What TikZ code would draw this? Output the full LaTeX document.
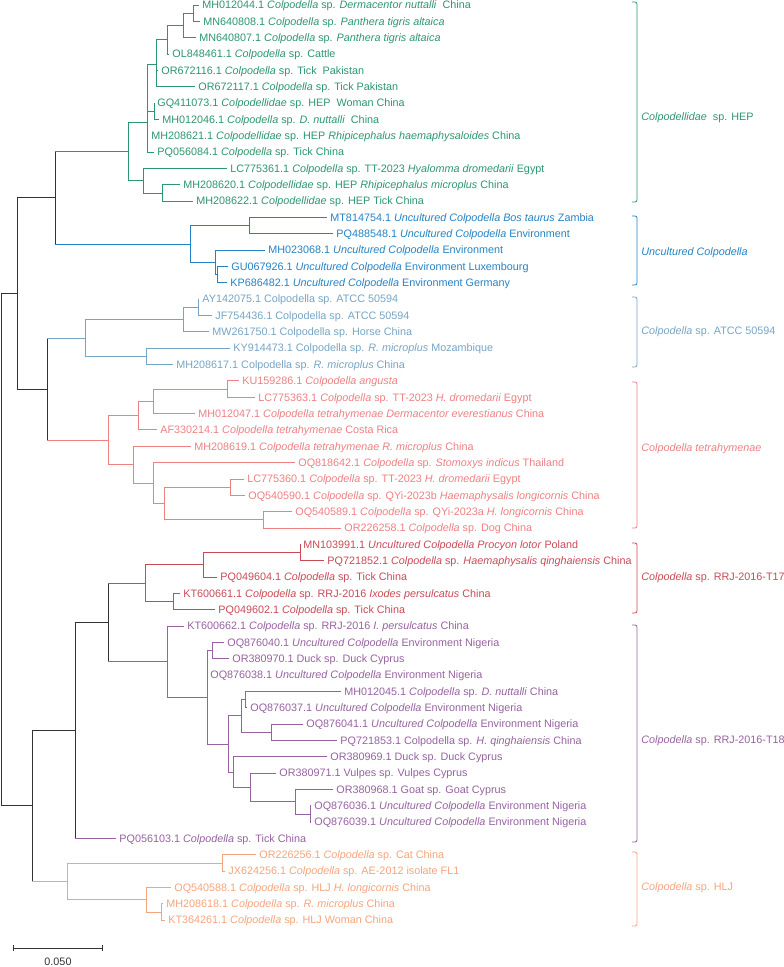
\documentclass[tikz,border=0pt]{standalone}
\usepackage{fontspec}
\setmainfont{Liberation Sans}
\definecolor{hepc}{RGB}{44,150,110}
\definecolor{uncc}{RGB}{36,130,196}
\definecolor{atcc}{RGB}{118,164,196}
\definecolor{tetc}{RGB}{236,128,130}
\definecolor{tsvc}{RGB}{200,74,86}
\definecolor{teic}{RGB}{150,98,160}
\definecolor{hljc}{RGB}{244,164,124}
\definecolor{bbc}{RGB}{50,50,50}
\newcommand{\lblfont}{\fontsize{10.8}{13}\selectfont}

\begin{document}
\begin{tikzpicture}[x=1pt,y=-1pt,line width=0.8pt,
  leaf/.style={anchor=west,inner xsep=3pt,inner ysep=0pt,text height=7.7pt,text depth=0pt,font=\lblfont},
  grp/.style={anchor=west,inner sep=0pt,text height=7.7pt,text depth=0pt,font=\lblfont},
  bb/.style={color=bbc},
  hep/.style={color=hepc}, unc/.style={color=uncc}, atc/.style={color=atcc},
  tet/.style={color=tetc}, tsv/.style={color=tsvc}, tei/.style={color=teic},
  hlj/.style={color=hljc},
  brk/.style={rounded corners=2pt}]
  \useasboundingbox (0,0) rectangle (784,967);

  % backbone
  \coordinate (root) at (1,549.6);
  \coordinate (A) at (17,293.4);
  \coordinate (B) at (55,197.7);
  \coordinate (C) at (47,389);
  \coordinate (D) at (32,805.8);
  \coordinate (E) at (75,730.3);
  \coordinate (F) at (108,622.3);

  % Colpodellidae sp. HEP
  \coordinate (G0) at (128,151.3);
  \coordinate (G1) at (147,122);
  \coordinate (G2) at (156,64);
  \coordinate (G3) at (167,39.7);
  \coordinate (G4) at (183,25.4);
  \coordinate (G5) at (193,13.2);
  \coordinate (GQn) at (154,111.2);
  \coordinate (G6) at (143,180.7);
  \coordinate (G7) at (162,192.9);
  \node[leaf,hep] (MH012044) at (199,5.0) {MH012044.1 \textit{Colpodella} sp. \textit{Dermacentor nuttalli}\ \ China};
  \node[leaf,hep] (MN640808) at (200,21.3) {MN640808.1 \textit{Colpodella} sp. \textit{Panthera tigris altaica}};
  \node[leaf,hep] (MN640807) at (196,37.7) {MN640807.1 \textit{Colpodella} sp. \textit{Panthera tigris altaica}};
  \node[leaf,hep] (OL848461) at (169,54.0) {OL848461.1 \textit{Colpodella} sp. Cattle};
  \node[leaf,hep] (OR672116) at (158,70.4) {OR672116.1 \textit{Colpodella} sp. Tick\ \ Pakistan};
  \node[leaf,hep] (OR672117) at (195,86.7) {OR672117.1 \textit{Colpodella} sp. Tick Pakistan};
  \node[leaf,hep] (GQ411073) at (154,103.0) {GQ411073.1 \textit{Colpodellidae} sp. HEP\ \ Woman China};
  \node[leaf,hep] (MH012046) at (159,119.4) {MH012046.1 \textit{Colpodella} sp. \textit{D. nuttalli}\ \ China};
  \node[leaf,hep] (MH208621) at (148,135.7) {MH208621.1 \textit{Colpodellidae} sp. HEP \textit{Rhipicephalus haemaphysaloides} China};
  \node[leaf,hep] (PQ056084) at (154,152.1) {PQ056084.1 \textit{Colpodella} sp. Tick China};
  \node[leaf,hep] (LC775361) at (227,168.4) {LC775361.1 \textit{Colpodella} sp. TT-2023 \textit{Hyalomma dromedarii} Egypt};
  \node[leaf,hep] (MH208620) at (180,184.7) {MH208620.1 \textit{Colpodellidae} sp. HEP \textit{Rhipicephalus microplus} China};
  \node[leaf,hep] (MH208622) at (193,201.1) {MH208622.1 \textit{Colpodellidae} sp. HEP Tick China};

  % Uncultured Colpodella
  \coordinate (U0) at (190,244);
  \coordinate (U1) at (249,225.6);
  \coordinate (U2) at (215,262.4);
  \coordinate (U3) at (217,274.6);
  \node[leaf,unc] (MT814754) at (327,217.4) {MT814754.1 \textit{Uncultured Colpodella Bos taurus} Zambia};
  \node[leaf,unc] (PQ488548) at (333,233.8) {PQ488548.1 \textit{Uncultured Colpodella} Environment};
  \node[leaf,unc] (MH023068) at (265,250.1) {MH023068.1 \textit{Uncultured Colpodella} Environment};
  \node[leaf,unc] (GU067926) at (228,266.4) {GU067926.1 \textit{Uncultured Colpodella} Environment Luxembourg};
  \node[leaf,unc] (KP686482) at (227,282.8) {KP686482.1 \textit{Uncultured Colpodella} Environment Germany};

  % Colpodella sp. ATCC 50594
  \coordinate (L0) at (85,338);
  \coordinate (L1) at (183,319.6);
  \coordinate (L2) at (198,307.3);
  \coordinate (L3) at (146,356.3);
  \node[leaf,atc] (AY142075) at (199,299.1) {AY142075.1 Colpodella sp. ATCC 50594};
  \node[leaf,atc] (JF754436) at (212,315.5) {JF754436.1 Colpodella sp. ATCC 50594};
  \node[leaf,atc] (MW261750) at (209,331.8) {MW261750.1 Colpodella sp. Horse China};
  \node[leaf,atc] (KY914473) at (230,348.1) {KY914473.1 Colpodella sp. \textit{R. microplus} Mozambique};
  \node[leaf,atc] (MH208617) at (173,364.5) {MH208617.1 Colpodella sp. \textit{R. microplus} China};

  % Colpodella tetrahymenae
  \coordinate (P0) at (108,440.1);
  \coordinate (P1) at (138,415.6);
  \coordinate (P2) at (153,401.3);
  \coordinate (P3) at (227,389);
  \coordinate (P4) at (133,464.6);
  \coordinate (P5) at (153,483);
  \coordinate (P6) at (164,503.4);
  \coordinate (P7) at (230,487);
  \coordinate (P8) at (263,519.7);
  \node[leaf,tet] (KU159286) at (239,380.8) {KU159286.1 \textit{Colpodella angusta}};
  \node[leaf,tet] (LC775363) at (255,397.2) {LC775363.1 \textit{Colpodella} sp. TT-2023 \textit{H. dromedarii} Egypt};
  \node[leaf,tet] (MH012047) at (195,413.5) {MH012047.1 \textit{Colpodella tetrahymenae Dermacentor everestianus} China};
  \node[leaf,tet] (AF330214) at (157,429.8) {AF330214.1 \textit{Colpodella tetrahymenae} Costa Rica};
  \node[leaf,tet] (MH208619) at (191,446.2) {MH208619.1 \textit{Colpodella tetrahymenae R. microplus} China};
  \node[leaf,tet] (OQ818642) at (295,462.5) {OQ818642.1 \textit{Colpodella} sp. \textit{Stomoxys indicus} Thailand};
  \node[leaf,tet] (LC775360) at (244,478.9) {LC775360.1 \textit{Colpodella} sp. TT-2023 \textit{H. dromedarii} Egypt};
  \node[leaf,tet] (OQ540590) at (245,495.2) {OQ540590.1 \textit{Colpodella} sp. QYi-2023b \textit{Haemaphysalis longicornis} China};
  \node[leaf,tet] (OQ540589) at (292,511.5) {OQ540589.1 \textit{Colpodella} sp. QYi-2023a \textit{H. longicornis} China};
  \node[leaf,tet] (OR226258) at (341,527.9) {OR226258.1 \textit{Colpodella} sp. Dog China};

  % Colpodella sp. RRJ-2016-T17
  \coordinate (R0) at (145,583);
  \coordinate (R1) at (203,564.7);
  \coordinate (R2) at (300,552.4);
  \coordinate (R3) at (173,601.4);
  \node[leaf,tsv] (MN103991) at (300,544.2) {MN103991.1 \textit{Uncultured Colpodella Procyon lotor} Poland};
  \node[leaf,tsv] (PQ721852) at (324,560.6) {PQ721852.1 \textit{Colpodella} sp. \textit{Haemaphysalis qinghaiensis} China};
  \node[leaf,tsv] (PQ049604) at (217,576.9) {PQ049604.1 \textit{Colpodella} sp. Tick China};
  \node[leaf,tsv] (KT600661) at (180,593.2) {KT600661.1 \textit{Colpodella} sp. RRJ-2016 \textit{Ixodes persulcatus} China};
  \node[leaf,tsv] (PQ049602) at (215,609.6) {PQ049602.1 \textit{Colpodella} sp. Tick China};

  % Colpodella sp. RRJ-2016-T18
  \coordinate (Q0) at (167,661.6);
  \coordinate (Q1) at (207,697.2);
  \coordinate (Q2) at (212,650.5);
  \coordinate (Q4) at (228,743.9);
  \coordinate (Q5) at (241,715.8);
  \coordinate (Q5a) at (245,699.5);
  \coordinate (Q6) at (271,732.2);
  \coordinate (Q7) at (233,772);
  \coordinate (Q8) at (250,787.3);
  \coordinate (Q9) at (295,801.6);
  \coordinate (Q10) at (310,813.9);
  \node[leaf,tei] (KT600662) at (184,625.9) {KT600662.1 \textit{Colpodella} sp. RRJ-2016 \textit{I. persulcatus} China};
  \node[leaf,tei] (OQ876040) at (224,642.3) {OQ876040.1 \textit{Uncultured Colpodella} Environment Nigeria};
  \node[leaf,tei] (OR380970) at (229,658.6) {OR380970.1 Duck sp. Duck Cyprus};
  \node[leaf,tei] (OQ876038) at (207,674.9) {OQ876038.1 \textit{Uncultured Colpodella} Environment Nigeria};
  \node[leaf,tei] (MH012045) at (341,691.3) {MH012045.1 \textit{Colpodella} sp. \textit{D. nuttalli} China};
  \node[leaf,tei] (OQ876037) at (247,707.6) {OQ876037.1 \textit{Uncultured Colpodella} Environment Nigeria};
  \node[leaf,tei] (OQ876041) at (303,724.0) {OQ876041.1 \textit{Uncultured Colpodella} Environment Nigeria};
  \node[leaf,tei] (PQ721853) at (337,740.3) {PQ721853.1 Colpodella sp. \textit{H. qinghaiensis} China};
  \node[leaf,tei] (OR380969) at (327,756.6) {OR380969.1 Duck sp. Duck Cyprus};
  \node[leaf,tei] (OR380971) at (276,773.0) {OR380971.1 Vulpes sp. Vulpes Cyprus};
  \node[leaf,tei] (OR380968) at (333,789.3) {OR380968.1 Goat sp. Goat Cyprus};
  \node[leaf,tei] (OQ876036) at (311,805.7) {OQ876036.1 \textit{Uncultured Colpodella} Environment Nigeria};
  \node[leaf,tei] (OQ876039) at (311,822.0) {OQ876039.1 \textit{Uncultured Colpodella} Environment Nigeria};
  \node[leaf,tei] (PQ056103) at (116,838.3) {PQ056103.1 \textit{Colpodella} sp. Tick China};

  % Colpodella sp. HLJ
  \coordinate (O0) at (67,881.3);
  \coordinate (O1) at (222,862.9);
  \coordinate (O2) at (146,899.7);
  \coordinate (O3) at (161,911.9);
  \node[leaf,hlj] (OR226256) at (256,854.7) {OR226256.1 \textit{Colpodella} sp. Cat China};
  \node[leaf,hlj] (JX624256) at (225,871.0) {JX624256.1 \textit{Colpodella} sp. AE-2012 isolate FL1};
  \node[leaf,hlj] (OQ540588) at (171,887.4) {OQ540588.1 \textit{Colpodella} sp. HLJ \textit{H. longicornis} China};
  \node[leaf,hlj] (MH208618) at (163,903.7) {MH208618.1 \textit{Colpodella} sp. \textit{R. microplus} China};
  \node[leaf,hlj] (KT364261) at (165,920.0) {KT364261.1 \textit{Colpodella} sp. HLJ Woman China};

  % branches
  \foreach \p/\c in {root/A, root/D, A/B, A/C, D/E, E/F}
    \draw[bb] (\p) |- (\c);
  \foreach \p/\c/\s in {B/G0/hep, B/U0/unc, C/L0/atc, C/P0/tet, F/R0/tsv, F/Q0/tei, E/PQ056103/tei, D/O0/hlj} {
    \draw[bb] (\p) -- (\p |- \c);
    \draw[\s] (\p |- \c) -- (\c);
  }
  \foreach \p/\c in {G0/G1, G0/G6, G1/G2, G1/GQn, G1/MH208621, G1/PQ056084, G2/G3, G2/OR672116, G2/OR672117,
      G3/G4, G3/OL848461, G4/G5, G4/MN640807, G5/MH012044, G5/MN640808, GQn/GQ411073, GQn/MH012046,
      G6/LC775361, G6/G7, G7/MH208620, G7/MH208622}
    \draw[hep] (\p) |- (\c);
  \foreach \p/\c in {U0/U1, U0/U2, U1/MT814754, U1/PQ488548, U2/MH023068, U2/U3, U3/GU067926, U3/KP686482}
    \draw[unc] (\p) |- (\c);
  \foreach \p/\c in {L0/L1, L0/L3, L1/L2, L1/MW261750, L2/AY142075, L2/JF754436, L3/KY914473, L3/MH208617}
    \draw[atc] (\p) |- (\c);
  \foreach \p/\c in {P0/P1, P0/P4, P1/P2, P1/AF330214, P2/P3, P2/MH012047, P3/KU159286, P3/LC775363,
      P4/MH208619, P4/P5, P5/OQ818642, P5/P6, P6/P7, P6/P8, P7/LC775360, P7/OQ540590, P8/OQ540589, P8/OR226258}
    \draw[tet] (\p) |- (\c);
  \foreach \p/\c in {R0/R1, R0/R3, R1/R2, R1/PQ049604, R2/MN103991, R2/PQ721852, R3/KT600661, R3/PQ049602}
    \draw[tsv] (\p) |- (\c);
  \foreach \p/\c in {Q0/KT600662, Q0/Q1, Q1/Q2, Q1/OQ876038, Q1/Q4, Q2/OQ876040, Q2/OR380970, Q4/Q5, Q4/Q7,
      Q5/Q5a, Q5/Q6, Q5a/MH012045, Q5a/OQ876037, Q6/OQ876041, Q6/PQ721853, Q7/OR380969, Q7/Q8,
      Q8/OR380971, Q8/Q9, Q9/OR380968, Q9/Q10, Q10/OQ876036, Q10/OQ876039}
    \draw[tei] (\p) |- (\c);
  \foreach \p/\c in {O0/O1, O0/O2, O1/OR226256, O1/JX624256, O2/OQ540588, O2/O3, O3/MH208618, O3/KT364261}
    \draw[hlj] (\p) |- (\c);

  % clade brackets
  \foreach \s/\a/\b in {hep/2/202, unc/216/285, atc/297/367, tet/382/528, tsv/543/613, tei/625/842, hlj/852/926}
    \draw[\s,brk] (632,\a) -- (637,\a) -- (637,\b) -- (632,\b);
  \node[grp,hep] (nhep) at (641,117) {\textit{Colpodellidae}\ \ sp. HEP};
  \node[grp,unc] (nunc) at (641,252) {\textit{Uncultured Colpodella}};
  \node[grp,atc] (natc) at (641,331) {\textit{Colpodella} sp. ATCC 50594};
  \node[grp,tet] (ntet) at (641,448) {\textit{Colpodella tetrahymenae}};
  \node[grp,tsv] (ntsv) at (641,577) {\textit{Colpodella} sp. RRJ-2016-T17};
  \node[grp,tei] (ntei) at (641,740) {\textit{Colpodella} sp. RRJ-2016-T18};
  \node[grp,hlj] (nhlj) at (641,887) {\textit{Colpodella} sp. HLJ};

  % scale bar
  \coordinate (s0) at (13,948);
  \coordinate (s1) at (102,948);
  \draw[bb] (s0) -- (s1);
  \draw[bb] ([yshift=3pt]s0) -- ([yshift=-3pt]s0);
  \draw[bb] ([yshift=3pt]s1) -- ([yshift=-3pt]s1);
  \node[grp,bb,anchor=center] (sbl) at (58,962) {0.050};
\end{tikzpicture}
\end{document}
